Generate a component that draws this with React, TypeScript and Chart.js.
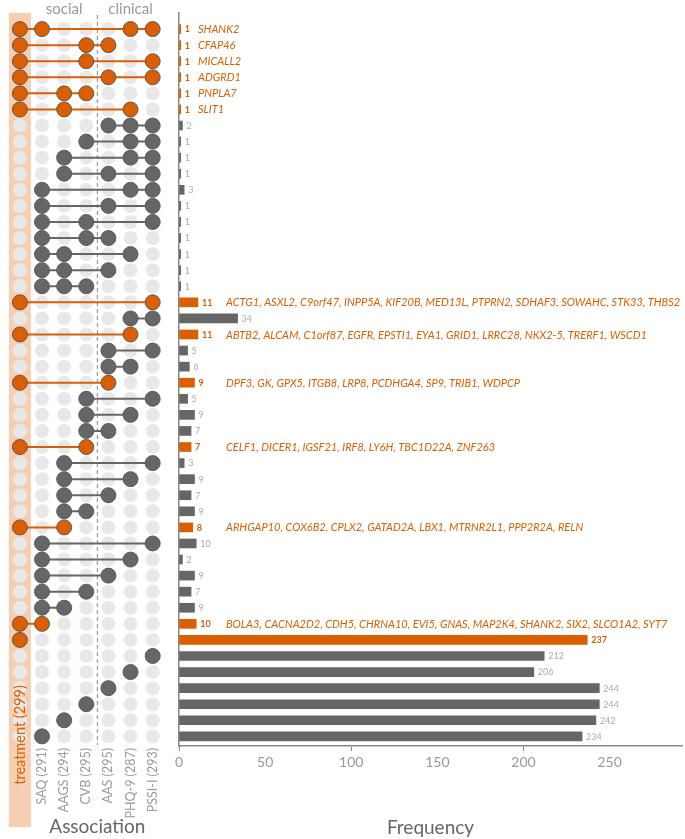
import React, { useEffect, useRef } from 'react';
import { Chart, registerables } from 'chart.js';
Chart.register(...registerables);

const setNames = ['treatment', 'SAQ', 'AAGS', 'CVB', 'AAS', 'PHQ-9', 'PSSI-I'];
const setSizes = [299, 291, 294, 295, 295, 287, 293];

// each row: indices of the sets that are part of the intersection
const memberships: number[][] = [
  [0, 1, 5, 6], [0, 3, 4], [0, 3, 6], [0, 4, 6], [0, 2, 3], [0, 2, 5],
  [4, 5, 6], [3, 5, 6], [2, 5, 6], [2, 4, 6], [1, 5, 6], [1, 4, 6],
  [1, 3, 6], [1, 3, 4], [1, 2, 5], [1, 2, 4], [1, 2, 3],
  [0, 6], [5, 6], [0, 5], [4, 6], [4, 5], [0, 4], [3, 6], [3, 5], [3, 4],
  [0, 3], [2, 6], [2, 5], [2, 4], [2, 3], [0, 2], [1, 6], [1, 5], [1, 4],
  [1, 3], [1, 2], [0, 1],
  [0], [6], [5], [4], [3], [2], [1],
];

const counts = [
  1, 1, 1, 1, 1, 1, 2, 1, 1, 1, 3, 1, 1, 1, 1, 1, 1,
  11, 34, 11, 5, 6, 9, 5, 9, 7, 7, 3, 9, 7, 9, 8, 10, 2, 9, 7, 9, 10,
  237, 212, 206, 244, 244, 242, 234,
];

const geneRows = [0, 1, 2, 3, 4, 5, 17, 19, 22, 26, 31, 37];
const geneTexts = [
  'SHANK2', 'CFAP46', 'MICALL2', 'ADGRD1', 'PNPLA7', 'SLIT1',
  'ACTG1, ASXL2, C9orf47, INPP5A, KIF20B, MED13L, PTPRN2, SDHAF3, SOWAHC, STK33, THBS2',
  'ABTB2, ALCAM, C1orf87, EGFR, EPSTI1, EYA1, GRID1, LRRC28, NKX2-5, TRERF1, WSCD1',
  'DPF3, GK, GPX5, ITGB8, LRP8, PCDHGA4, SP9, TRIB1, WDPCP',
  'CELF1, DICER1, IGSF21, IRF8, LY6H, TBC1D22A, ZNF263',
  'ARHGAP10, COX6B2, CPLX2, GATAD2A, LBX1, MTRNR2L1, PPP2R2A, RELN',
  'BOLA3, CACNA2D2, CDH5, CHRNA10, EVI5, GNAS, MAP2K4, SHANK2, SIX2, SLCO1A2, SYT7',
];

const xTicks = [0, 50, 100, 150, 200, 250];

const ORANGE = '#d95f02';
const GRAY = '#666666';
const LIGHT = '#e8e8e8';
const PEACH = '#f6cfb3';
const W = 685;
const H = 839;
const TOP = 13;
const AXIS_H = 93;
const Y_MIN = -1;
const Y_MAX = 44.6;
const FONT = 'Lato';

const isHi = (r: number) => memberships[r].includes(0);

export default function App() {
  const leftRef = useRef<HTMLCanvasElement>(null);
  const rightRef = useRef<HTMLCanvasElement>(null);

  useEffect(() => {
    Chart.defaults.font.family = FONT;

    const bgPts: { x: number; y: number }[] = [];
    memberships.forEach((_, r) => {
      for (let c = 0; c < setNames.length; c++) bgPts.push({ x: c, y: r });
    });
    const actPts: { x: number; y: number }[] = [];
    const actCol: string[] = [];
    memberships.forEach((m, r) => {
      m.forEach((c) => {
        actPts.push({ x: c, y: r });
        actCol.push(isHi(r) ? ORANGE : GRAY);
      });
    });
    const lineSets: any[] = [];
    memberships.forEach((m, r) => {
      if (m.length > 1) {
        lineSets.push({
          data: [{ x: Math.min(...m), y: r }, { x: Math.max(...m), y: r }],
          showLine: true,
          borderColor: isHi(r) ? ORANGE : GRAY,
          borderWidth: 2,
          pointRadius: 0,
          order: 1,
        });
      }
    });

    const leftDeco = {
      id: 'leftDeco',
      beforeDraw(chart: any) {
        const ctx = chart.ctx;
        const xs = chart.scales.x;
        const x0 = xs.getPixelForValue(0);
        ctx.save();
        ctx.fillStyle = PEACH;
        ctx.fillRect(x0 - 11, TOP, 22, 827 - TOP);
        const xd = xs.getPixelForValue(3.5);
        ctx.strokeStyle = '#888';
        ctx.lineWidth = 1;
        ctx.setLineDash([4, 3]);
        ctx.beginPath();
        ctx.moveTo(xd, 15);
        ctx.lineTo(xd, 745);
        ctx.stroke();
        ctx.restore();
      },
      afterDraw(chart: any) {
        const ctx = chart.ctx;
        const xs = chart.scales.x;
        ctx.save();
        ctx.fillStyle = '#999';
        ctx.font = `15px ${FONT}`;
        ctx.textAlign = 'center';
        ctx.textBaseline = 'middle';
        ctx.fillText('social', xs.getPixelForValue(2), 9);
        ctx.fillText('clinical', xs.getPixelForValue(5), 9);
        ctx.fillStyle = '#666';
        ctx.font = `19px ${FONT}`;
        ctx.fillText('Association', (xs.getPixelForValue(1) + xs.getPixelForValue(6)) / 2, 827);
        ctx.translate(xs.getPixelForValue(0), 735);
        ctx.rotate(-Math.PI / 2);
        ctx.fillStyle = ORANGE;
        ctx.font = `14.5px ${FONT}`;
        ctx.fillText(`${setNames[0]} (${setSizes[0]})`, 0, 0);
        ctx.restore();
      },
    };

    const left = new Chart(leftRef.current!, {
      type: 'scatter',
      data: {
        datasets: [
          {
            data: actPts,
            pointRadius: 7.5,
            pointBackgroundColor: actCol,
            pointBorderColor: '#5a5a5a',
            pointBorderWidth: 1,
            order: 0,
          } as any,
          ...lineSets,
          {
            data: bgPts,
            pointRadius: 7,
            pointBackgroundColor: LIGHT,
            pointBorderWidth: 0,
            order: 2,
          },
        ],
      },
      options: {
        responsive: false,
        animation: false,
        devicePixelRatio: 1,
        layout: { padding: { top: TOP, left: 0, right: W - 165, bottom: 0 } },
        plugins: { legend: { display: false }, tooltip: { enabled: false } },
        scales: {
          x: {
            type: 'linear',
            min: -0.514,
            max: 6.557,
            afterBuildTicks: (s: any) => {
              s.ticks = setNames.map((_, i) => ({ value: i }));
            },
            afterFit: (s: any) => {
              s.height = AXIS_H;
            },
            ticks: {
              autoSkip: false,
              minRotation: 90,
              maxRotation: 90,
              padding: 2,
              color: '#999',
              font: { size: 12.5, family: FONT },
              callback: (v: any) => (v === 0 ? '' : `${setNames[v]} (${setSizes[v]})`),
            },
            grid: { display: false, drawTicks: false },
            border: { display: false },
          },
          y: {
            type: 'linear',
            reverse: true,
            offset: false,
            min: Y_MIN,
            max: Y_MAX,
            display: false,
          },
        },
      },
      plugins: [leftDeco],
    });

    const barLabels = {
      id: 'barLabels',
      afterDatasetsDraw(chart: any) {
        const ctx = chart.ctx;
        const xs = chart.scales.x;
        const ys = chart.scales.y;
        const x0 = xs.getPixelForValue(0);
        ctx.save();
        ctx.textBaseline = 'middle';
        ctx.textAlign = 'left';
        counts.forEach((v, r) => {
          const y = ys.getPixelForValue(r);
          const xe = xs.getPixelForValue(v);
          if (isHi(r)) {
            ctx.fillStyle = ORANGE;
            ctx.font = `bold 9px ${FONT}`;
          } else {
            ctx.fillStyle = '#aaa';
            ctx.font = `9px ${FONT}`;
          }
          ctx.fillText(String(v), xe + 4, y + 0.5);
        });
        ctx.fillStyle = ORANGE;
        ctx.font = `italic 11px ${FONT}`;
        geneRows.forEach((r, k) => {
          const y = ys.getPixelForValue(r);
          const gx = x0 + (counts[r] <= 2 ? 19 : 47);
          ctx.fillText(geneTexts[k], gx, y + 0.5);
        });
        ctx.restore();
      },
    };

    const right = new Chart(rightRef.current!, {
      type: 'bar',
      data: {
        datasets: [
          {
            data: counts.map((v, r) => ({ x: v, y: r })),
            backgroundColor: counts.map((_, r) => (isHi(r) ? ORANGE : GRAY)),
            barThickness: 9,
            borderWidth: 0,
          } as any,
        ],
      },
      options: {
        indexAxis: 'y',
        responsive: false,
        animation: false,
        devicePixelRatio: 1,
        layout: { padding: { top: TOP, left: 179, right: 3, bottom: 0 } },
        plugins: { legend: { display: false }, tooltip: { enabled: false } },
        scales: {
          x: {
            type: 'linear',
            min: 0,
            max: 292,
            afterBuildTicks: (s: any) => {
              s.ticks = xTicks.map((v) => ({ value: v }));
            },
            afterFit: (s: any) => {
              s.height = AXIS_H;
            },
            ticks: {
              color: '#999',
              padding: 3,
              font: { size: 14, family: FONT },
            },
            grid: {
              drawOnChartArea: false,
              drawTicks: true,
              tickLength: 5,
              color: (c: any) => (c.tick && c.tick.value % 100 === 0 ? '#888' : 'rgba(0,0,0,0)'),
            },
            border: { display: true, color: '#888', width: 1.5 },
            title: {
              display: true,
              text: 'Frequency',
              color: '#666',
              padding: 0,
              font: { size: 19, family: FONT },
            },
          },
          y: {
            type: 'linear',
            reverse: true,
            offset: false,
            min: Y_MIN,
            max: Y_MAX,
            afterFit: (s: any) => {
              s.width = 0;
            },
            ticks: { display: false },
            grid: { display: false, offset: false },
            border: { display: true, color: '#888', width: 1.5 },
          },
        },
      },
      plugins: [barLabels],
    });

    return () => {
      left.destroy();
      right.destroy();
    };
  }, []);

  const cs: React.CSSProperties = { position: 'absolute', left: 0, top: 0, width: W, height: H };
  return (
    <div style={{ position: 'fixed', left: 0, top: 0, width: W, height: H, background: '#fff' }}>
      <canvas ref={leftRef} width={W} height={H} style={cs} />
      <canvas ref={rightRef} width={W} height={H} style={cs} />
    </div>
  );
}
